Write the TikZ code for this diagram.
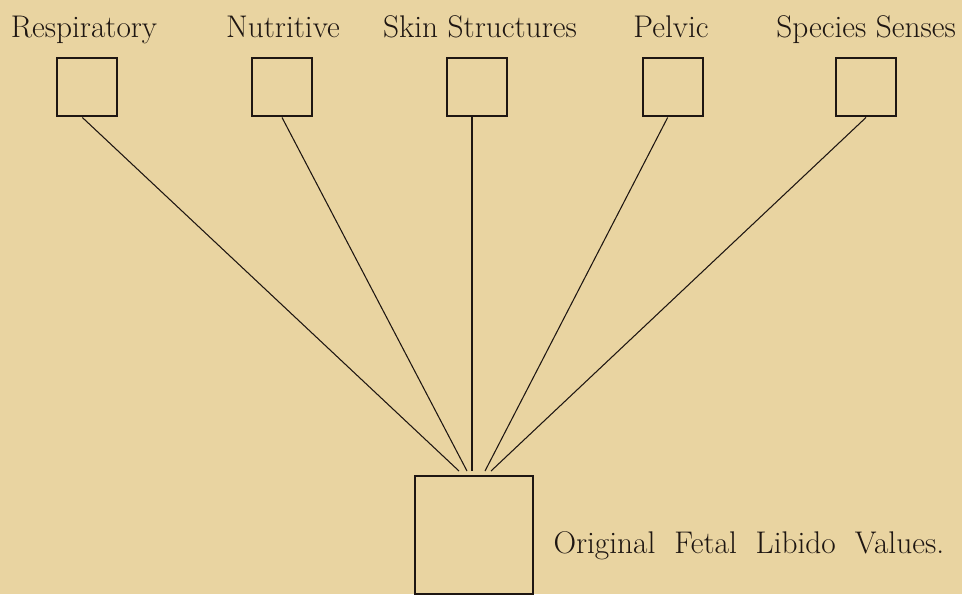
\documentclass[tikz,border=0pt]{standalone}
\usepackage{xcolor}
\definecolor{paper}{RGB}{233,212,161}
\definecolor{ink}{RGB}{30,22,18}
\tikzset{every picture/.style={line width=0.75pt}}
\tikzset{
  organ/.style={draw=ink, line width=2.2pt, minimum width=45pt, minimum height=43.5pt, inner sep=0pt},
  origin/.style={draw=ink, line width=2.2pt, minimum width=88.5pt, minimum height=88.5pt, inner sep=0pt},
  caption/.style={inner sep=0.75pt, text=ink, font=\fontsize{23.5}{28}\selectfont},
  ray/.style={draw=ink, line width=0.8pt}
}

\begin{document}
\begin{tikzpicture}[x=0.75pt,y=0.75pt,yscale=-1,xscale=1]
%background, keeps the page at 962 by 594
\useasboundingbox[fill=paper] (0,0) rectangle (962,594);

%Squares
\node [organ] (resp) at (87,87) {};
\node [organ] (nutr) at (282,87) {};
\node [organ] (skin) at (477,87) {};
\node [organ] (pelv) at (673,87) {};
\node [organ] (spec) at (866,87) {};
\node [origin] (fetal) at (474,535) {};

% Text Node
\node [caption, anchor=base] (respl) at (84,37) {Respiratory};
% Text Node
\node [caption, anchor=base] (nutrl) at (283,37) {Nutritive};
% Text Node
\node [caption, anchor=base] (skinl) at (480,37) {Skin Structures};
% Text Node
\node [caption, anchor=base] (pelvl) at (671,37) {Pelvic};
% Text Node
\node [caption, anchor=base] (specl) at (866,37) {Species Senses};
% Text Node
\node [caption, anchor=base west] (fetall) at (552,553) {Original\ \ Fetal\ \ Libido\ \ Values.};

%ends of the rays, just above the big square
\coordinate (e1) at (459,471);
\coordinate (e2) at (467,471);
\coordinate (e3) at (472,471);
\coordinate (e4) at (485,471);
\coordinate (e5) at (491,471);

%Straight Lines
\draw [ray] ([xshift=-3.5pt]resp.south) -- (e1) ;
\draw [ray] (nutr.south) -- (e2) ;
\draw [ray] (skin.south -| e3) -- (e3) ;
\draw [ray] ([xshift=-4pt]pelv.south) -- (e4) ;
\draw [ray] (spec.south) -- (e5) ;

\end{tikzpicture}
\end{document}
